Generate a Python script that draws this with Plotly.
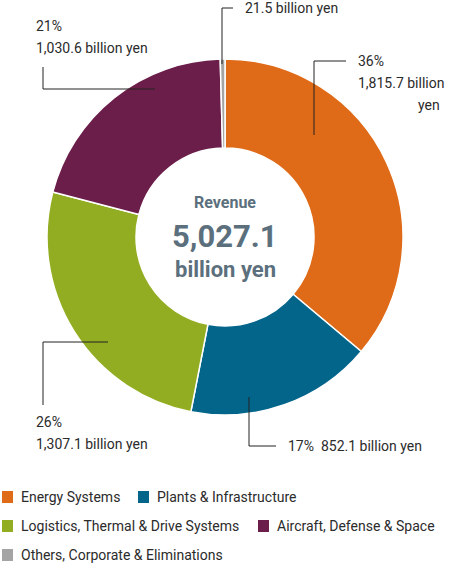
import plotly.graph_objects as go

segments = ['Energy Systems', 'Plants & Infrastructure', 'Logistics, Thermal & Drive Systems',
            'Aircraft, Defense & Space', 'Others, Corporate & Eliminations']
revenue = [1815.7, 852.1, 1307.1, 1030.6, 21.5]
shares = ['36%', '17%', '26%', '21%', '']
colors = ['#DF6A17', '#04658B', '#93AD23', '#6C1E4B', '#A4A4A4']

total_label = '5,027.1'

W, H = 450, 566
FONT = 'Roboto'
TEXT_COLOR = '#2b2b2b'
CENTER_COLOR = '#5B6F7D'


def px_x(x):
    return x / W


def px_y(y):
    return 1 - y / H


fig = go.Figure()

fig.add_trace(
    go.Pie(
        labels=segments,
        values=revenue,
        sort=False,
        direction='clockwise',
        rotation=0,
        hole=0.5,
        marker=dict(colors=colors, line=dict(color='white', width=1.5)),
        textinfo='none',
        hoverinfo='label+value',
        domain=dict(x=[px_x(225 - 178), px_x(225 + 178)], y=[px_y(415), px_y(59)]),
        showlegend=False
    )
)

annotations = []
shapes = []


def add_text(x, y, text, size=14, color=TEXT_COLOR, xanchor='left', bold=False):
    annotations.append(dict(
        x=px_x(x), y=px_y(y), xref='paper', yref='paper',
        text=f'<b>{text}</b>' if bold else text,
        showarrow=False, xanchor=xanchor, yanchor='middle',
        font=dict(family=FONT, size=size, color=color)
    ))


def add_line(points):
    for (x0, y0), (x1, y1) in zip(points[:-1], points[1:]):
        shapes.append(dict(
            type='line', xref='paper', yref='paper',
            x0=px_x(x0), y0=px_y(y0), x1=px_x(x1), y1=px_y(y1),
            line=dict(color='#222222', width=1)
        ))


def bn(v):
    return f'{v:,.1f} billion yen'


# Others
add_line([(233, 8), (222, 8), (222, 64)])
add_text(243, 8, bn(revenue[4]))

# Aircraft, Defense & Space
add_line([(43, 67), (43, 89), (155, 89)])
add_text(34, 26, shares[3])
add_text(34, 48, bn(revenue[3]))

# Energy Systems
add_line([(346, 61), (314, 61), (314, 135)])
add_text(356, 61, shares[0])
add_text(356, 83, f'{revenue[0]:,.1f} billion')
add_text(442, 105, 'yen', xanchor='right')

# Logistics, Thermal & Drive Systems
add_line([(108, 342), (43, 342), (43, 405)])
add_text(34, 422, shares[2])
add_text(34, 444, bn(revenue[2]))

# Plants & Infrastructure
add_line([(249, 397), (249, 446), (276, 446)])
add_text(286, 446, f'{shares[1]}  {bn(revenue[1])}')

# centre text
add_text(225, 202, 'Revenue', size=16, color=CENTER_COLOR, xanchor='center', bold=True)
add_text(225, 236, total_label, size=31, color=CENTER_COLOR, xanchor='center', bold=True)
add_text(225, 269, 'billion yen', size=22, color=CENTER_COLOR, xanchor='center', bold=True)

# legend
legend_pos = [(2, 497), (138, 497), (2, 526), (258, 526), (2, 555)]
for name, color, (lx, ly) in zip(segments, colors, legend_pos):
    shapes.append(dict(
        type='rect', xref='paper', yref='paper',
        x0=px_x(lx), y0=px_y(ly - 6), x1=px_x(lx + 11), y1=px_y(ly + 6),
        fillcolor=color, line=dict(width=0)
    ))
    add_text(lx + 17, ly, name)

fig.update_layout(
    width=W,
    height=H,
    margin=dict(t=0, b=0, l=0, r=0),
    paper_bgcolor='white',
    plot_bgcolor='white',
    showlegend=False,
    annotations=annotations,
    shapes=shapes,
    font=dict(family=FONT)
)

# page body has a default 8px margin, drop it so the figure sits at the window corner
fig.write_html('out.html', config={'displayModeBar': False},
               post_script="document.body.style.margin='0';")
